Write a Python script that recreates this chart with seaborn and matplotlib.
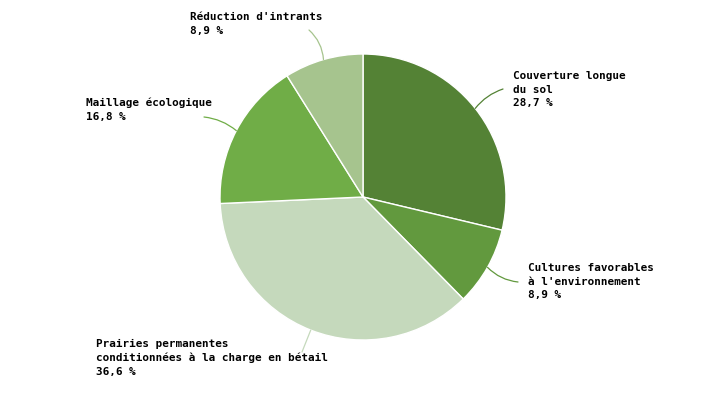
import matplotlib.pyplot as plt
import numpy as np
import seaborn as sns

# chart data
CATEGORIES = [
    "Couverture longue\ndu sol",
    "Cultures favorables\nà l'environnement",
    "Prairies permanentes\nconditionnées à la charge en bétail",
    "Maillage écologique",
    "Réduction d'intrants",
]
SHARES = [28.7, 8.9, 36.6, 16.8, 8.9]
COLORS = ["#548235", "#62993e", "#c5d9bc", "#70ad47", "#a6c48e"]

# label placement (pixel coords of text top-left, leader end, leader curvature)
W, H = 725, 400
CX, CY, R = 363, 197, 143
LABEL_TOPLEFT = [(513, 71), (528, 263), (96, 339), (86, 98), (190, 12)]
LEADER_END = [(503, 89), (518, 282), (302, 352), (204, 117), (309, 30)]
LEADER_RAD = [0.15, -0.18, 0.0, -0.15, -0.2]


def px(p):
    return ((p[0] - CX) / R, (CY - p[1]) / R)


sns.set_theme(style="white")
plt.rcParams["font.family"] = ["DejaVu Sans Mono", "DejaVu Sans"]

fig = plt.figure(figsize=(W / 100, H / 100), dpi=100)
ax = fig.add_axes([0, 0, 1, 1])

wedges, _ = ax.pie(
    SHARES,
    colors=COLORS,
    startangle=90,
    counterclock=False,
    radius=1,
    wedgeprops=dict(edgecolor="white", linewidth=1),
)

for i, w in enumerate(wedges):
    mid = np.deg2rad((w.theta1 + w.theta2) / 2)
    start = (np.cos(mid), np.sin(mid))
    ax.annotate(
        "",
        xy=start,
        xytext=px(LEADER_END[i]),
        arrowprops=dict(
            arrowstyle="-",
            color=COLORS[i],
            lw=0.9,
            shrinkA=0,
            shrinkB=0,
            connectionstyle=f"arc3,rad={LEADER_RAD[i]}",
        ),
    )
    ax.text(
        *px(LABEL_TOPLEFT[i]),
        f"{CATEGORIES[i]}\n{SHARES[i]:.1f} %".replace(".", ","),
        ha="left",
        va="top",
        fontsize=7.9,
        fontweight="bold",
        linespacing=1.45,
        color="black",
    )

ax.set_xlim(-CX / R, (W - CX) / R)
ax.set_ylim(-(H - CY) / R, CY / R)
ax.set_aspect("auto")
ax.axis("off")

fig.savefig("out.png", dpi=100)
